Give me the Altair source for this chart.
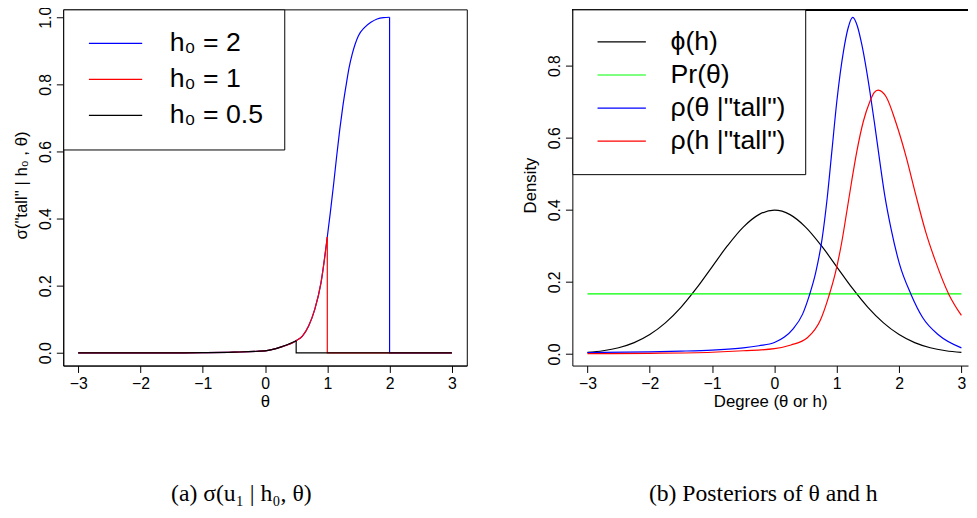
import altair as alt
import pandas as pd

# ---------------- data ----------------
# panel (a): sigma("tall" | h0, theta) -- common rising curve, cut at h0
theta_grid = [-3, -2.5, -2, -1.5, -1, -0.5, 0, 0.25, 0.5, 0.6, 0.7, 0.8, 0.9,
              1.0, 1.05, 1.1, 1.15, 1.2, 1.25, 1.3, 1.35, 1.4, 1.5, 1.6, 1.7,
              1.8, 1.9, 2.0]
sigma_vals = [0, 0, 0, 0, 0.0005, 0.002, 0.006, 0.017, 0.036, 0.05, 0.08, 0.13,
              0.21, 0.345, 0.42, 0.5, 0.585, 0.665, 0.735, 0.795, 0.85, 0.89,
              0.945, 0.97, 0.985, 0.995, 0.999, 1.0]
h0_values = [2, 1, 0.5]
h0_labels = ["h\u2080 = 2", "h\u2080 = 1", "h\u2080 = 0.5"]
h0_colors = ["#0000FF", "#FF0000", "#000000"]

# panel (b): densities
phi_x = [-3, -2.75, -2.5, -2.25, -2, -1.75, -1.5, -1.25, -1, -0.75, -0.5, -0.25,
         0, 0.25, 0.5, 0.75, 1, 1.25, 1.5, 1.75, 2, 2.25, 2.5, 2.75, 3]
phi_y = [0.0044, 0.0091, 0.0175, 0.0317, 0.054, 0.0863, 0.1295, 0.1826, 0.242,
         0.3011, 0.3521, 0.3867, 0.3989, 0.3867, 0.3521, 0.3011, 0.242, 0.1826,
         0.1295, 0.0863, 0.054, 0.0317, 0.0175, 0.0091, 0.0044]
prior_x = [-3, 3]
prior_y = [0.1667, 0.1667]
post_theta_x = [-3, -2, -1.5, -1, -0.5, -0.25, 0, 0.16, 0.3, 0.45, 0.555, 0.661,
                0.766, 0.845, 0.924, 1.003, 1.109, 1.18, 1.256, 1.33, 1.40, 1.53,
                1.61, 1.69, 1.77, 1.874, 2.006, 2.19, 2.375, 2.64, 3.0]
post_theta_y = [0.004, 0.006, 0.008, 0.011, 0.017, 0.023, 0.032, 0.047, 0.07,
                0.11, 0.16, 0.225, 0.321, 0.43, 0.567, 0.704, 0.841, 0.903, 0.934,
                0.91, 0.86, 0.73, 0.635, 0.535, 0.44, 0.345, 0.25, 0.166, 0.102,
                0.052, 0.017]
post_h_x = [-3, -2, -1, -0.5, 0, 0.266, 0.528, 0.74, 0.872, 0.978, 1.08, 1.16,
            1.24, 1.32, 1.426, 1.53, 1.6, 1.663, 1.73, 1.794, 1.953, 2.11, 2.27,
            2.427, 2.585, 2.797, 3.0]
post_h_y = [0.001, 0.002, 0.005, 0.009, 0.015, 0.025, 0.045, 0.095, 0.16, 0.225,
            0.31, 0.394, 0.48, 0.56, 0.645, 0.70, 0.725, 0.732, 0.727, 0.713,
            0.64, 0.549, 0.44, 0.339, 0.257, 0.166, 0.107]
dens_labels = ["\u03d5(h)", "Pr(\u03b8)", "\u03c1(\u03b8 |\"tall\")", "\u03c1(h |\"tall\")"]
dens_colors = ["#000000", "#00FF00", "#0000FF", "#FF0000"]

x_ticks = [-3, -2, -1, 0, 1, 2, 3]
left_y_ticks = [0, 0.2, 0.4, 0.6, 0.8, 1.0]
right_y_ticks = [0, 0.2, 0.4, 0.6, 0.8]

# ---------------- tables ----------------
curve_rows, drop_rows = [], []
for h0, lab in zip(h0_values, h0_labels):
    k = 0
    for t, s in zip(theta_grid, sigma_vals):
        if t <= h0:
            curve_rows.append({"theta": t, "val": s, "series": lab, "ord": k})
            k += 1
    top = sigma_vals[theta_grid.index(h0)]
    drop_rows += [
        {"theta": h0, "val": top, "series": lab, "ord": 0},
        {"theta": h0, "val": 0.0, "series": lab, "ord": 1},
        {"theta": 3.0, "val": 0.0, "series": lab, "ord": 2},
    ]
curves = pd.DataFrame(curve_rows)
drops = pd.DataFrame(drop_rows)

dens_rows = []
for lab, xs, ys in zip(dens_labels, [phi_x, prior_x, post_theta_x, post_h_x],
                       [phi_y, prior_y, post_theta_y, post_h_y]):
    for i, (a, b) in enumerate(zip(xs, ys)):
        dens_rows.append({"x": a, "y": b, "series": lab, "ord": i})
dens = pd.DataFrame(dens_rows)

FONT = "Liberation Sans"
LW = 1.2


def xaxis(title):
    return alt.Axis(values=x_ticks, format="d", title=title, tickSize=7,
                    labelPadding=3, labelFontSize=16, titleFontSize=17,
                    titlePadding=2, labelFlush=False, grid=False, domain=True,
                    labelFont=FONT, titleFont=FONT, titleFontWeight="normal")


def yaxis(title, ticks):
    return alt.Axis(values=ticks, format=".1f", title=title, tickSize=7,
                    labelPadding=6, labelFontSize=16, labelAngle=270,
                    labelAlign="center", labelBaseline="alphabetic",
                    titleFontSize=17, titleAngle=270, titleAlign="center",
                    titleBaseline="alphabetic", titleX=-37, titleY=178,
                    labelFlush=False, grid=False, domain=True,
                    labelFont=FONT, titleFont=FONT, titleFontWeight="normal")


def legend(size, pad, rowpad, loff, soff):
    return alt.Legend(title=None, orient="none", legendX=0, legendY=0,
                      symbolType="stroke", symbolSize=size, symbolStrokeWidth=LW,
                      labelFontSize=27, labelFont=FONT, labelColor="black",
                      strokeColor="black", fillColor="white", clipHeight=27,
                      padding=pad, rowPadding=rowpad, labelOffset=loff,
                      symbolOffset=soff)


def caption(text, dx):
    return alt.TitleParams(text, orient="bottom", font="Liberation Serif",
                           fontSize=24, fontWeight="normal", offset=74, dx=dx,
                           anchor="middle", color="black")


# ---------------- panel (a) ----------------
lx = alt.Scale(domain=[-3.24, 3.24], nice=False, zero=False)
ly = alt.Scale(domain=[-0.038, 1.0235], nice=False, zero=False)
lleg = legend(2916, 21, 8.5, 27, 4)
lcolor_scale = alt.Scale(domain=h0_labels, range=h0_colors)

left_curves = alt.Chart(curves).mark_line(strokeWidth=LW, interpolate="monotone").encode(
    x=alt.X("theta:Q", scale=lx, axis=xaxis("\u03b8")),
    y=alt.Y("val:Q", scale=ly, axis=yaxis("\u03c3(\"tall\" | h\u2080 , \u03b8)", left_y_ticks)),
    color=alt.Color("series:N", scale=lcolor_scale, legend=lleg),
    detail="series:N", order="ord:Q")
left_drops = alt.Chart(drops).mark_line(strokeWidth=LW).encode(
    x=alt.X("theta:Q", scale=lx, axis=xaxis("\u03b8")),
    y=alt.Y("val:Q", scale=ly, axis=yaxis("\u03c3(\"tall\" | h\u2080 , \u03b8)", left_y_ticks)),
    color=alt.Color("series:N", scale=lcolor_scale, legend=lleg),
    detail="series:N", order="ord:Q")
left = alt.layer(left_curves, left_drops).properties(
    width=409, height=361,
    title=caption("(a) \u03c3(u\u2081 | h\u2080, \u03b8)", -24))

# ---------------- panel (b) ----------------
rx = alt.Scale(domain=[-3.242, 3.106], nice=False, zero=False)
ry = alt.Scale(domain=[-0.032, 0.956], nice=False, zero=False)
right_lines = alt.Chart(dens).mark_line(strokeWidth=LW, interpolate="monotone").encode(
    x=alt.X("x:Q", scale=rx, axis=xaxis("Degree (\u03b8 or h)")),
    y=alt.Y("y:Q", scale=ry, axis=yaxis("Density", right_y_ticks)),
    color=alt.Color("series:N",
                    scale=alt.Scale(domain=dens_labels, range=dens_colors),
                    legend=legend(2401, 19.5, 5.5, 24, 5)),
    detail="series:N", order="ord:Q")
top_edge = alt.Chart(dens).mark_rule(color="black", strokeWidth=1).encode(
    x=alt.value(0), x2=alt.value(401), y=alt.value(0.5))
right = alt.layer(right_lines, top_edge).properties(
    width=401, height=361,
    view=alt.ViewBackground(stroke="transparent"),
    title=caption("(b) Posteriors of \u03b8 and h", -7))

chart = alt.hconcat(left, right, spacing=107, bounds="flush").resolve_scale(
    color="independent").properties(
    padding={"left": 4, "top": -6, "right": 0, "bottom": 0}
).configure_view(stroke="black", strokeWidth=1).configure_axis(
    labelColor="black", titleColor="black", tickColor="black",
    domainColor="black", titleFontWeight="normal")

chart.save("out.html", embed_options={"renderer": "svg", "actions": False})
